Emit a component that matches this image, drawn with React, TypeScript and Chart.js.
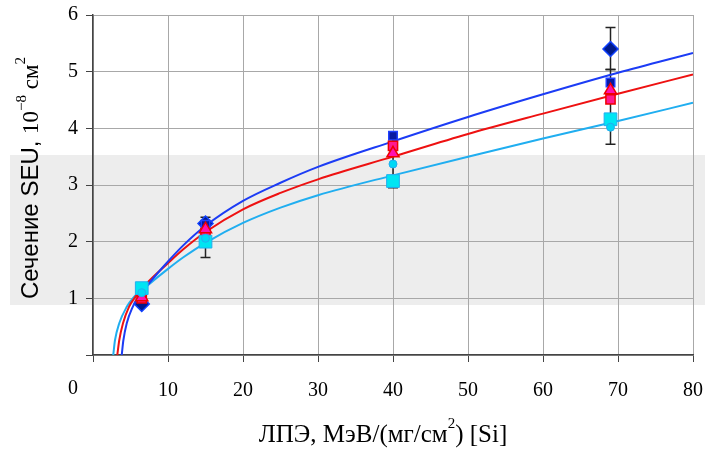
import React, { useEffect, useRef } from 'react';
import { Chart, registerables } from 'chart.js';

Chart.register(...registerables);

// ---- Data ----
const xTickValues = [0, 10, 20, 30, 40, 50, 60, 70, 80];
const yTickValues = [0, 1, 2, 3, 4, 5, 6];

const xTitleParts = ['ЛПЭ, МэВ/(мг/см', '2', ') [Si]'];
const yTitleParts = ['Сечение SEU, ', '10', '−8', ' см', '2'];

// Fit curves
const fitBlueX = [3.83, 4.05, 4.5, 5.3, 5.9, 7.5, 10, 12, 15, 20, 25, 30, 40, 50, 60, 70, 80];
const fitBlueY = [0, 0.26, 0.56, 0.85, 1.0, 1.27, 1.65, 1.93, 2.28, 2.72, 3.04, 3.32, 3.77, 4.2, 4.6, 4.98, 5.33];
const fitRedX = [3.24, 3.5, 4.0, 4.8, 5.5, 7.2, 10, 12, 15, 20, 25, 30, 40, 50, 60, 70, 80];
const fitRedY = [0, 0.26, 0.56, 0.85, 1.0, 1.27, 1.62, 1.86, 2.17, 2.57, 2.86, 3.1, 3.5, 3.9, 4.26, 4.61, 4.95];
const fitCyanX = [2.7, 2.93, 3.5, 4.5, 5.3, 7.2, 10, 12, 15, 20, 25, 30, 40, 50, 60, 70, 80];
const fitCyanY = [0, 0.26, 0.56, 0.85, 1.0, 1.22, 1.52, 1.72, 1.98, 2.33, 2.6, 2.82, 3.17, 3.5, 3.82, 4.13, 4.45];

// Measured points
const blueDiamondX = [6.5, 15, 69];
const blueDiamondY = [0.9, 2.32, 5.4];
const blueSquareX = [15, 40, 69];
const blueSquareY = [2.3, 3.87, 4.81];
const redSquareX = [6.5, 15, 40, 69];
const redSquareY = [1.0, 2.15, 3.69, 4.51];
const triangleX = [6.5, 15, 40, 69];
const triangleY = [1.02, 2.22, 3.56, 4.67];
const cyanCircleX = [6.5, 15, 40, 69];
const cyanCircleY = [1.1, 2.06, 3.37, 4.02];
const cyanSquareX = [6.5, 15, 40, 69];
const cyanSquareY = [1.18, 2.0, 3.07, 4.16];

// Error bars
const errX = [6.5, 15, 40, 69, 69];
const errLow = [0.9, 1.72, 2.95, 3.72, 5.04];
const errHigh = [1.05, 2.43, 3.9, 5.04, 5.78];

const SERIF = "'Liberation Serif', 'Times New Roman', serif";
const SANS = "'Liberation Sans', Arial, sans-serif";

const pts = (xs: number[], ys: number[]) => xs.map((x, i) => ({ x, y: ys[i] }));

type Part = { text: string; font: string; dy: number };

function drawRich(ctx: CanvasRenderingContext2D, parts: Part[], cx: number, cy: number, rotate: boolean) {
  ctx.save();
  ctx.translate(cx, cy);
  if (rotate) ctx.rotate(-Math.PI / 2);
  ctx.fillStyle = '#000';
  ctx.textBaseline = 'alphabetic';
  ctx.textAlign = 'left';
  const widths = parts.map((p) => {
    ctx.font = p.font;
    return ctx.measureText(p.text).width;
  });
  const total = widths.reduce((a, b) => a + b, 0);
  let x = -total / 2;
  parts.forEach((p, i) => {
    ctx.font = p.font;
    ctx.fillText(p.text, x, p.dy);
    x += widths[i];
  });
  ctx.restore();
}

const decorPlugin = {
  id: 'decor',
  beforeDraw(chart: any) {
    const ctx = chart.ctx as CanvasRenderingContext2D;
    ctx.save();
    ctx.fillStyle = '#ededed';
    ctx.fillRect(10, 155, chart.width - 10, 150);
    ctx.restore();
  },
  beforeDatasetsDraw(chart: any) {
    const ctx = chart.ctx as CanvasRenderingContext2D;
    const xs = chart.scales.x;
    const ys = chart.scales.y;
    ctx.save();
    ctx.strokeStyle = '#222';
    ctx.lineWidth = 1.5;
    errX.forEach((xv, i) => {
      const px = xs.getPixelForValue(xv);
      const lo = ys.getPixelForValue(errLow[i]);
      const hi = ys.getPixelForValue(errHigh[i]);
      ctx.beginPath();
      ctx.moveTo(px, lo);
      ctx.lineTo(px, hi);
      ctx.moveTo(px - 5, lo);
      ctx.lineTo(px + 5, lo);
      ctx.moveTo(px - 5, hi);
      ctx.lineTo(px + 5, hi);
      ctx.stroke();
    });
    ctx.restore();
  },
  afterDraw(chart: any) {
    const ctx = chart.ctx as CanvasRenderingContext2D;
    const xs = chart.scales.x;
    // "0" label of x axis (offset left as in the original)
    ctx.save();
    ctx.font = `20px ${SERIF}`;
    ctx.fillStyle = '#000';
    ctx.textAlign = 'center';
    ctx.textBaseline = 'middle';
    ctx.fillText(String(xTickValues[0]), xs.getPixelForValue(0) - 20, 389);
    ctx.restore();

    drawRich(
      ctx,
      [
        { text: xTitleParts[0], font: `25px ${SERIF}`, dy: 0 },
        { text: xTitleParts[1], font: `15px ${SERIF}`, dy: -14 },
        { text: xTitleParts[2], font: `25px ${SERIF}`, dy: 0 },
      ],
      383,
      442,
      false
    );
    drawRich(
      ctx,
      [
        { text: yTitleParts[0], font: `24px ${SANS}`, dy: 0 },
        { text: yTitleParts[1], font: `23px ${SERIF}`, dy: 0 },
        { text: yTitleParts[2], font: `15px ${SERIF}`, dy: -12 },
        { text: yTitleParts[3], font: `23px ${SERIF}`, dy: 0 },
        { text: yTitleParts[4], font: `15px ${SERIF}`, dy: -13 },
      ],
      38,
      178,
      true
    );
  },
};

export default function App() {
  const ref = useRef<HTMLCanvasElement>(null);
  useEffect(() => {
    document.body.style.margin = '0';
    const lineDs = (label: string, xs: number[], ys: number[], color: string) => ({
      label,
      data: pts(xs, ys),
      showLine: true,
      borderColor: color,
      backgroundColor: color,
      borderWidth: 2,
      pointRadius: 0,
      cubicInterpolationMode: 'monotone' as const,
      order: 10,
    });
    const chart = new Chart(ref.current!, {
      type: 'scatter',
      data: {
        datasets: [
          {
            label: 'cyan circle',
            data: pts(cyanCircleX, cyanCircleY),
            pointStyle: 'circle',
            pointRadius: 4,
            backgroundColor: '#00d8f5',
            borderColor: '#22aef0',
            borderWidth: 1,
            order: 1,
          },
          {
            label: 'cyan square',
            data: pts(cyanSquareX, cyanSquareY),
            pointStyle: 'rect',
            pointRadius: 9,
            backgroundColor: '#00e5f2',
            borderColor: '#22aef0',
            borderWidth: 1,
            order: 2,
          },
          {
            label: 'triangle',
            data: pts(triangleX, triangleY),
            pointStyle: 'triangle',
            pointRadius: 7,
            backgroundColor: '#ff10b0',
            borderColor: '#ee0000',
            borderWidth: 1.5,
            order: 3,
          },
          {
            label: 'red square',
            data: pts(redSquareX, redSquareY),
            pointStyle: 'rect',
            pointRadius: 6.5,
            backgroundColor: '#ff1a90',
            borderColor: '#ee0000',
            borderWidth: 1.5,
            order: 4,
          },
          {
            label: 'blue square',
            data: pts(blueSquareX, blueSquareY),
            pointStyle: 'rect',
            pointRadius: 6,
            backgroundColor: '#0a1aa0',
            borderColor: '#2040ff',
            borderWidth: 1.5,
            order: 5,
          },
          {
            label: 'blue diamond',
            data: pts(blueDiamondX, blueDiamondY),
            pointStyle: 'rectRot',
            pointRadius: 7.5,
            backgroundColor: '#001a8c',
            borderColor: '#1040ff',
            borderWidth: 1.5,
            order: 6,
          },
          lineDs('fit blue', fitBlueX, fitBlueY, '#1c3cf5'),
          lineDs('fit red', fitRedX, fitRedY, '#ee1111'),
          lineDs('fit cyan', fitCyanX, fitCyanY, '#20aef0'),
        ],
      },
      options: {
        responsive: false,
        animation: false,
        devicePixelRatio: 1,
        layout: { padding: 0 },
        plugins: { legend: { display: false }, tooltip: { enabled: false } },
        scales: {
          x: {
            type: 'linear',
            min: xTickValues[0],
            max: xTickValues[xTickValues.length - 1],
            afterBuildTicks: (s: any) => {
              s.ticks = xTickValues.map((v) => ({ value: v }));
            },
            afterFit: (s: any) => {
              s.height = 103;
              s.paddingLeft = 0;
              s.paddingRight = 12;
            },
            ticks: {
              font: { family: SERIF, size: 20 },
              color: '#000',
              padding: 17,
              maxRotation: 0,
              callback: (v: any) => (v === 0 ? '' : String(v)),
            },
            grid: { color: '#a8a8a8', lineWidth: 1, tickLength: 7, tickColor: '#444' },
            border: { color: '#444', width: 1.5 },
          },
          y: {
            type: 'linear',
            min: yTickValues[0],
            max: yTickValues[yTickValues.length - 1],
            afterBuildTicks: (s: any) => {
              s.ticks = yTickValues.map((v) => ({ value: v }));
            },
            afterFit: (s: any) => {
              s.width = 93;
              s.paddingTop = 15;
              s.paddingBottom = 0;
            },
            ticks: {
              font: { family: SERIF, size: 20 },
              color: '#000',
              padding: 8,
              callback: (v: any) => (v === 0 ? '' : String(v)),
            },
            grid: { color: '#a8a8a8', lineWidth: 1, tickLength: 7, tickColor: '#444' },
            border: { color: '#444', width: 1.5 },
          },
        },
      },
      plugins: [decorPlugin],
    });
    return () => chart.destroy();
  }, []);
  return (
    <div style={{ width: 705, height: 458, position: 'relative' }}>
      <canvas ref={ref} width={705} height={458} style={{ display: 'block' }} />
    </div>
  );
}
